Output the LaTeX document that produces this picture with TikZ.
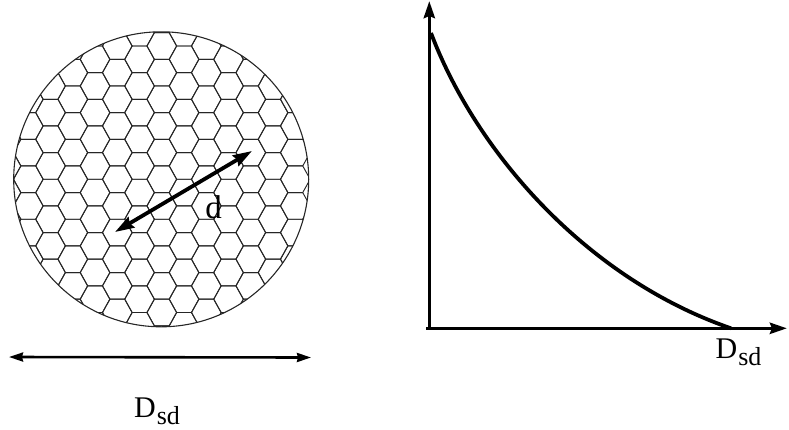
\documentclass[tikz,border=0pt]{standalone}
\usepackage{fontspec}
\setmainfont{Liberation Serif}
\usetikzlibrary{arrows.meta}
\tikzset{
  hexline/.style={draw=black!85,line width=0.95pt,line join=round},
  axisline/.style={draw=black,line width=3.6pt,-{Stealth[length=17pt,width=11pt,inset=2pt]}},
  widthline/.style={draw=black,line width=2.6pt,{Stealth[length=14pt,width=9pt,inset=1pt]}-{Stealth[length=14pt,width=9pt,inset=1pt]}},
  diamline/.style={draw=black,line width=3.8pt,{Stealth[length=19pt,width=12pt,inset=2pt]}-{Stealth[length=19pt,width=12pt,inset=2pt]}},
  curveline/.style={draw=black,line width=3.8pt},
  lbl/.style={inner sep=0pt,font=\fontsize{30}{32}\selectfont},
}
\newcommand{\dsd}{D\kern1pt{\fontsize{26}{28}\selectfont\raisebox{-7pt}{sd}}}
\begin{document}
\begin{tikzpicture}[x=1pt,y=-1pt]
\useasboundingbox (0,0) rectangle (789,429);
\coordinate (cc) at (161.2,179.3);
\begin{scope}
\clip (cc) circle (147.5);
\foreach \k in {-6,...,8}{
  \foreach \m in {-2,...,12}{
    \pgfmathsetmacro{\cx}{117.3+22.25*\k}
    \pgfmathsetmacro{\cy}{72.65+13.33*mod(abs(\k),2)+26.65*\m}
    \draw[hexline] (\cx-14.83,\cy) -- (\cx-7.42,\cy-13.33) -- (\cx+7.42,\cy-13.33) -- (\cx+14.83,\cy) -- (\cx+7.42,\cy+13.33) -- (\cx-7.42,\cy+13.33) -- cycle;
  }
}
\end{scope}
\node[draw=black!85,line width=1.1pt,circle,minimum size=295pt,inner sep=0pt] (disc) at (cc) {};
\coordinate (da) at (115,232);
\coordinate (db) at (252,151);
\draw[diamline] (da) -- (db);
\node[lbl,font=\fontsize{33}{34}\selectfont] (dl) at (213.5,207) {d};
\coordinate (wa) at (9,357);
\coordinate (wb) at (311,357.5);
\draw[widthline] (wa) -- (wb);
\node[lbl] (wl) at (157,411) {\dsd};
\coordinate (o) at (429.3,328.3);
\coordinate (yt) at (429.3,1);
\coordinate (xt) at (787,328.3);
\draw[axisline] (o) -- (yt);
\draw[axisline] ([xshift=-3pt]o) -- (xt);
\coordinate (cs) at (431,33);
\coordinate (ce) at (731,328.3);
\draw[curveline] (cs) .. controls (475,150) and (585,278) .. (ce);
\node[lbl] (xl) at (738.5,352) {\dsd};
\end{tikzpicture}
\end{document}
